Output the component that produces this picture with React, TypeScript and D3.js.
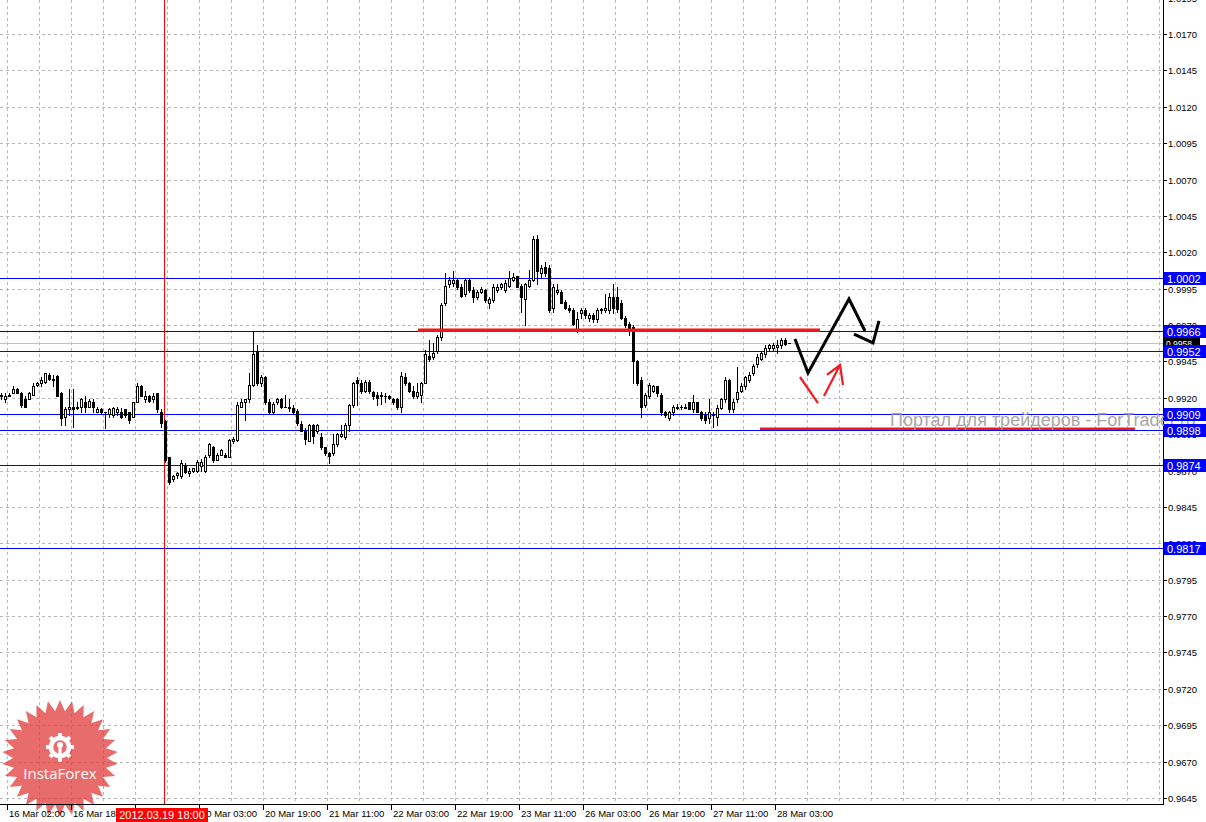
import React from "react";
import * as d3 from "d3";

// ---- data (EURUSD-like H1 candles) ----
const openP = [0.9921,0.9919,0.9921,0.9923,0.9926,0.9923,0.9919,0.9919,0.9922,0.9929,0.9930,0.9931,0.9936,0.9932,0.9935,0.9923,0.9907,0.9912,0.9914,0.9913,0.9914,0.9917,0.9914,0.9917,0.9910,0.9912,0.9910,0.9909,0.9908,0.9910,0.9910,0.9912,0.9910,0.9907,0.9917,0.9928,0.9919,0.9921,0.9919,0.9923,0.9910,0.9904,0.9879,0.9864,0.9867,0.9866,0.9874,0.9868,0.9870,0.9870,0.9873,0.9870,0.9881,0.9886,0.9877,0.9881,0.9881,0.9879,0.9890,0.9891,0.9914,0.9917,0.9919,0.9929,0.9952,0.9930,0.9934,0.9917,0.9910,0.9917,0.9919,0.9914,0.9914,0.9913,0.9911,0.9902,0.9897,0.9890,0.9901,0.9897,0.9893,0.9886,0.9882,0.9882,0.9888,0.9894,0.9893,0.9901,0.9915,0.9932,0.9930,0.9925,0.9931,0.9924,0.9922,0.9921,0.9921,0.9921,0.9919,0.9919,0.9914,0.9934,0.9930,0.9925,0.9921,0.9922,0.9930,0.9949,0.9948,0.9952,0.9962,0.9985,0.9998,0.9999,1.0001,0.9996,0.9991,1.0001,0.9994,0.9989,0.9993,0.9994,0.9985,0.9987,0.9994,0.9996,0.9994,0.9997,1.0001,1.0004,0.9997,0.9988,0.9997,1.0001,1.0029,1.0006,1.0010,1.0009,0.9982,0.9993,0.9993,0.9986,0.9982,0.9980,0.9967,0.9978,0.9980,0.9975,0.9977,0.9974,0.9980,0.9980,0.9980,0.9989,0.9989,0.9985,0.9975,0.9971,0.9969,0.9945,0.9932,0.9915,0.9921,0.9925,0.9928,0.9922,0.9910,0.9906,0.9910,0.9913,0.9914,0.9913,0.9917,0.9912,0.9917,0.9910,0.9908,0.9906,0.9908,0.9907,0.9913,0.9919,0.9932,0.9912,0.9919,0.9925,0.9928,0.9932,0.9937,0.9943,0.9947,0.9950,0.9954,0.9954,0.9955,0.9956,0.9960,0.9958];
const highP = [0.9923,0.9923,0.9923,0.9928,0.9927,0.9924,0.9921,0.9924,0.9930,0.9931,0.9934,0.9937,0.9937,0.9936,0.9936,0.9924,0.9914,0.9926,0.9926,0.9917,0.9920,0.9921,0.9919,0.9919,0.9914,0.9913,0.9910,0.9913,0.9914,0.9914,0.9913,0.9912,0.9910,0.9917,0.9930,0.9929,0.9925,0.9922,0.9923,0.9923,0.9912,0.9905,0.9879,0.9867,0.9869,0.9877,0.9875,0.9872,0.9872,0.9877,0.9878,0.9881,0.9889,0.9887,0.9882,0.9885,0.9882,0.9892,0.9893,0.9917,0.9919,0.9919,0.9937,0.9966,0.9956,0.9936,0.9935,0.9919,0.9917,0.9920,0.9920,0.9922,0.9919,0.9915,0.9912,0.9904,0.9899,0.9902,0.9902,0.9902,0.9896,0.9886,0.9883,0.9895,0.9896,0.9901,0.9903,0.9916,0.9931,0.9934,0.9932,0.9932,0.9932,0.9925,0.9924,0.9924,0.9923,0.9922,0.9920,0.9920,0.9938,0.9937,0.9931,0.9928,0.9930,0.9931,0.9953,0.9960,0.9958,0.9963,0.9985,1.0006,1.0003,1.0007,1.0002,0.9998,1.0002,1.0002,0.9996,0.9994,0.9996,0.9995,0.9989,0.9998,0.9998,0.9999,1.0001,1.0007,1.0006,1.0004,0.9998,0.9999,1.0008,1.0031,1.0032,1.0011,1.0013,1.0011,0.9998,0.9998,0.9994,0.9987,0.9984,0.9982,0.9979,0.9982,0.9982,0.9978,0.9978,0.9982,0.9982,0.9991,0.9992,0.9998,0.9996,0.9987,0.9976,0.9972,0.9970,0.9946,0.9934,0.9923,0.9930,0.9929,0.9928,0.9923,0.9911,0.9911,0.9915,0.9916,0.9915,0.9916,0.9917,0.9922,0.9917,0.9911,0.9910,0.9919,0.9910,0.9915,0.9920,0.9934,0.9933,0.9919,0.9941,0.9930,0.9935,0.9938,0.9943,0.9950,0.9952,0.9956,0.9957,0.9958,0.9960,0.9961,0.9961,0.9958];
const lowP = [0.9919,0.9917,0.9921,0.9923,0.9923,0.9914,0.9914,0.9919,0.9922,0.9928,0.9928,0.9930,0.9932,0.9928,0.9921,0.9901,0.9901,0.9908,0.9900,0.9912,0.9910,0.9910,0.9914,0.9910,0.9910,0.9909,0.9899,0.9907,0.9907,0.9908,0.9906,0.9907,0.9903,0.9907,0.9917,0.9921,0.9917,0.9917,0.9917,0.9910,0.9900,0.9876,0.9861,0.9863,0.9865,0.9865,0.9868,0.9866,0.9869,0.9869,0.9870,0.9869,0.9879,0.9876,0.9877,0.9881,0.9879,0.9879,0.9889,0.9890,0.9914,0.9905,0.9917,0.9928,0.9929,0.9928,0.9916,0.9909,0.9909,0.9916,0.9913,0.9914,0.9911,0.9909,0.9901,0.9897,0.9888,0.9890,0.9889,0.9896,0.9885,0.9881,0.9875,0.9881,0.9887,0.9893,0.9892,0.9897,0.9914,0.9915,0.9923,0.9924,0.9923,0.9919,0.9915,0.9916,0.9917,0.9919,0.9916,0.9912,0.9910,0.9929,0.9924,0.9920,0.9920,0.9917,0.9930,0.9945,0.9947,0.9951,0.9960,0.9984,0.9996,0.9997,0.9995,0.9989,0.9990,0.9993,0.9986,0.9988,0.9992,0.9986,0.9982,0.9986,0.9993,0.9995,0.9993,0.9996,1.0000,0.9996,0.9979,0.9970,0.9996,1.0000,0.9998,1.0003,1.0004,0.9979,0.9979,0.9991,0.9985,0.9981,0.9979,0.9970,0.9965,0.9975,0.9975,0.9973,0.9972,0.9972,0.9978,0.9979,0.9978,0.9978,0.9979,0.9974,0.9969,0.9963,0.9930,0.9929,0.9907,0.9914,0.9920,0.9924,0.9921,0.9908,0.9907,0.9905,0.9908,0.9912,0.9912,0.9913,0.9912,0.9910,0.9910,0.9905,0.9903,0.9903,0.9900,0.9901,0.9912,0.9917,0.9910,0.9910,0.9917,0.9924,0.9926,0.9931,0.9936,0.9941,0.9946,0.9948,0.9953,0.9953,0.9951,0.9954,0.9956,0.9958];
const closeP = [0.9922,0.9921,0.9922,0.9926,0.9923,0.9915,0.9914,0.9923,0.9928,0.9930,0.9932,0.9937,0.9933,0.9933,0.9921,0.9906,0.9912,0.9914,0.9912,0.9914,0.9919,0.9914,0.9918,0.9914,0.9912,0.9910,0.9910,0.9912,0.9913,0.9912,0.9907,0.9908,0.9905,0.9917,0.9928,0.9921,0.9921,0.9918,0.9921,0.9912,0.9903,0.9877,0.9862,0.9866,0.9868,0.9875,0.9869,0.9870,0.9872,0.9876,0.9876,0.9879,0.9888,0.9877,0.9881,0.9884,0.9879,0.9891,0.9892,0.9915,0.9917,0.9919,0.9929,0.9950,0.9930,0.9934,0.9917,0.9910,0.9916,0.9919,0.9914,0.9914,0.9913,0.9910,0.9903,0.9897,0.9892,0.9901,0.9894,0.9901,0.9886,0.9882,0.9880,0.9888,0.9895,0.9895,0.9901,0.9915,0.9930,0.9930,0.9925,0.9931,0.9925,0.9921,0.9920,0.9922,0.9921,0.9920,0.9917,0.9914,0.9935,0.9930,0.9925,0.9921,0.9924,0.9930,0.9950,0.9947,0.9951,0.9962,0.9984,0.9997,1.0001,1.0001,0.9996,0.9990,1.0001,0.9994,0.9989,0.9993,0.9995,0.9987,0.9988,0.9996,0.9996,0.9998,0.9999,1.0002,1.0003,0.9996,0.9989,0.9998,1.0001,1.0029,1.0007,1.0009,1.0006,0.9980,0.9996,0.9994,0.9985,0.9982,0.9980,0.9971,0.9974,0.9980,0.9977,0.9977,0.9974,0.9980,0.9981,0.9982,0.9989,0.9982,0.9981,0.9975,0.9970,0.9967,0.9945,0.9930,0.9914,0.9922,0.9929,0.9928,0.9923,0.9910,0.9908,0.9910,0.9914,0.9914,0.9914,0.9914,0.9912,0.9917,0.9910,0.9906,0.9905,0.9910,0.9908,0.9913,0.9919,0.9932,0.9912,0.9917,0.9924,0.9928,0.9934,0.9936,0.9942,0.9948,0.9951,0.9954,0.9956,0.9956,0.9956,0.9960,0.9957,0.9958];

const priceTicks = [1.0195,1.0170,1.0145,1.0120,1.0095,1.0070,1.0045,1.0020,0.9995,0.9970,0.9945,0.9920,0.9895,0.9870,0.9845,0.9820,0.9795,0.9770,0.9745,0.9720,0.9695,0.9670,0.9645];
const levelPrices = [1.0002, 0.9966, 0.9952, 0.9909, 0.9898, 0.9874, 0.9817];
const bidPrice = 0.9958;
const timeLabels = ["16 Mar 02:00","16 Mar 18:00","19 Mar 11:00","20 Mar 03:00","20 Mar 19:00","21 Mar 11:00","22 Mar 03:00","22 Mar 19:00","23 Mar 11:00","26 Mar 03:00","26 Mar 19:00","27 Mar 11:00","28 Mar 03:00"];
const crosshairIndex = 40.75;
const crosshairLabel = "2012.03.19 18:00";
// analyst drawings in (bar index, price)
const redLevels = [
  { price: 0.99665, from: 104.25, to: 204.75, w: 3.5 },
  { price: 0.98987, from: 189.75, to: 283.5, w: 2.6 },
];
const blackPath1: [number, number][] = [[198.5, 0.99604], [201.75, 0.9937], [212, 0.99879], [216, 0.99659]];
const blackPath2: [number, number][] = [[213.25, 0.99638], [218, 0.99577], [219.5, 0.99728]];
const redStroke1: [number, number][] = [[199.75, 0.99343], [204.25, 0.99164]];
const redStroke2: [number, number][] = [[205.75, 0.99212], [209.75, 0.99425]];
const redHead: [number, number][] = [[206.5, 0.99357], [209.75, 0.99425], [210.5, 0.99288]];
const watermark = "Портал для трейдеров - ForTrader.ru";
const logoText = "InstaForex";

const FONT = "'Liberation Sans', Arial, sans-serif";

export default function App() {
  const W = 1206, H = 822;
  const plotRight = 1163, plotBottom = 804;
  const xS = d3.scaleLinear().domain([0, 290.5]).range([1, 1163]);
  const yS = d3.scaleLinear().domain([0.9645, 1.017]).range([798, 34]);
  const px = (i: number) => Math.round(xS(i));
  const py = (p: number) => Math.round(yS(p));
  const gridX = d3.range(0, 37).map((k) => px(1.5 + 8 * k) + 0.5);
  const line = d3.line<[number, number]>().x((d) => xS(d[0])).y((d) => yS(d[1]));

  // logo starburst
  const N = 30;
  const cx0 = 60, cy0 = 758;
  const star = d3.range(2 * N).map((k) => {
    const a = (k * Math.PI) / N - Math.PI / 2;
    const r = k % 2 === 0 ? 58 : 47;
    return [cx0 + r * Math.cos(a), cy0 + r * Math.sin(a)] as [number, number];
  });
  const starPath = d3.line()(star) + "Z";
  const gearTeeth = d3.range(8).map((k) => (k * 360) / 8);

  return (
    <svg width={W} height={H} style={{ position: "absolute", left: 0, top: 0, display: "block", background: "#fff" }}
      fontFamily={FONT}>
      <rect x={0} y={0} width={W} height={H} fill="#fff" />
      <defs>
        <clipPath id="plot"><rect x={0} y={0} width={plotRight} height={plotBottom} /></clipPath>
      </defs>
      {/* grid */}
      <g stroke="#b8b8b8" strokeWidth={1} strokeDasharray="3,3" shapeRendering="crispEdges">
        {gridX.map((gx, k) => <line key={"gx" + k} x1={gx} x2={gx} y1={0} y2={plotBottom} />)}
        {priceTicks.map((p, k) => <line key={"gy" + k} x1={0} x2={plotRight} y1={py(p) + 0.5} y2={py(p) + 0.5} />)}
      </g>

      {/* logo */}
      <g>
        <path d={starPath} fill="#e23b3b" opacity={0.75} />
        <circle cx={60} cy={747} r={9} fill="none" stroke="#fff" strokeWidth={4.5} />
        {gearTeeth.map((a) => (
          <rect key={a} x={58} y={733} width={4} height={5} fill="#fff" transform={`rotate(${a} 60 747)`} />
        ))}
        <circle cx={60} cy={745} r={3} fill="#fff" />
        <rect x={58.4} y={748} width={3.2} height={14} fill="#fff" />
        <text x={60} y={779} textAnchor="middle" fill="#fff" fontSize={15} fontFamily="'Open Sans', 'Liberation Sans', sans-serif">{logoText}</text>
      </g>

      <g clipPath="url(#plot)" shapeRendering="crispEdges">
        {/* bid line */}
        <line x1={0} x2={plotRight} y1={py(bidPrice) + 0.5} y2={py(bidPrice) + 0.5} stroke="#c8c0c8" />
        {/* levels */}
        {levelPrices.map((p) => (
          <line key={p} x1={0} x2={plotRight} y1={py(p) + 0.5} y2={py(p) + 0.5} stroke="#0000ff" strokeWidth={1} />
        ))}
        {/* crosshair */}
        <line x1={px(crosshairIndex) + 0.5} x2={px(crosshairIndex) + 0.5} y1={0} y2={plotBottom} stroke="#ff0000" />
        {/* candles */}
        {openP.map((o, i) => {
          const c = closeP[i];
          const hi = Math.max(highP[i], o, c), lo = Math.min(lowP[i], o, c);
          const x = px(i);
          const yH = py(hi), yL = py(lo);
          const yT = py(Math.max(o, c)), yB = py(Math.min(o, c));
          const bull = c > o;
          return (
            <g key={i}>
              <rect x={x} y={yH} width={1} height={yL - yH + 1} fill="#000" />
              <rect x={x - 1} y={yT} width={3} height={yB - yT + 1} fill="#000" />
              {bull && yB - yT >= 2 && <rect x={x} y={yT + 1} width={1} height={yB - yT - 1} fill="#fff" />}
            </g>
          );
        })}
      </g>

      {/* drawings */}
      {redLevels.map((r, k) => (
        <line key={"rl" + k} x1={xS(r.from)} x2={xS(r.to)} y1={yS(r.price)} y2={yS(r.price)} stroke="#f01818" strokeWidth={r.w} />
      ))}
      <path d={line(blackPath1)!} fill="none" stroke="#000" strokeWidth={3} strokeLinejoin="miter" />
      <path d={line(blackPath2)!} fill="none" stroke="#000" strokeWidth={3} strokeLinejoin="miter" />
      <path d={line(redStroke1)!} fill="none" stroke="#ee1c24" strokeWidth={2.2} />
      <path d={line(redStroke2)!} fill="none" stroke="#ee1c24" strokeWidth={2.2} />
      <path d={line(redHead)!} fill="none" stroke="#ee1c24" strokeWidth={2.2} />

      {/* axes */}
      <g shapeRendering="crispEdges">
        <line x1={plotRight + 0.5} x2={plotRight + 0.5} y1={0} y2={plotBottom + 1} stroke="#000" />
        <line x1={0} x2={plotRight + 1} y1={plotBottom + 0.5} y2={plotBottom + 0.5} stroke="#000" />
        {priceTicks.map((p, k) => (
          <line key={"pt" + k} x1={plotRight} x2={plotRight + 4} y1={py(p) + 0.5} y2={py(p) + 0.5} stroke="#000" />
        ))}
        {timeLabels.map((t, k) => {
          const tx = px(1.5 + 16 * k) + 0.5;
          return <line key={"tt" + k} x1={tx} x2={tx} y1={plotBottom} y2={plotBottom + 6} stroke="#000" />;
        })}
      </g>
      {priceTicks.map((p, k) => (
        <text key={"pl" + k} x={1168} y={py(p) + 4} fontSize={9.5} fill="#000">{p.toFixed(4)}</text>
      ))}
      {timeLabels.map((t, k) => (
        <text key={"tl" + k} x={px(1.5 + 16 * k) + 2} y={817} fontSize={9.5} fill="#000">{t}</text>
      ))}

      {/* watermark */}
      <text x={890} y={426} fontSize={18} fill="#a39c9c" opacity={0.9}>{watermark}</text>

      {/* bid label */}
      <rect x={1164} y={py(bidPrice) - 5} width={36} height={10} fill="#000" />
      <text x={1166} y={py(bidPrice) + 3.5} fontSize={8.5} fill="#fff">{bidPrice.toFixed(4)}</text>
      {/* level labels */}
      {levelPrices.map((p) => (
        <g key={"lb" + p}>
          <rect x={1164} y={py(p) - 6} width={42} height={13} fill="#0000ff" />
          <text x={1167} y={py(p) + 4.5} fontSize={11} fill="#fff">{p.toFixed(4)}</text>
        </g>
      ))}

      {/* crosshair time label */}
      <rect x={116} y={808} width={92} height={14} fill="#ff0000" />
      <text x={162} y={819} textAnchor="middle" fontSize={11} fill="#fff">{crosshairLabel}</text>
    </svg>
  );
}
